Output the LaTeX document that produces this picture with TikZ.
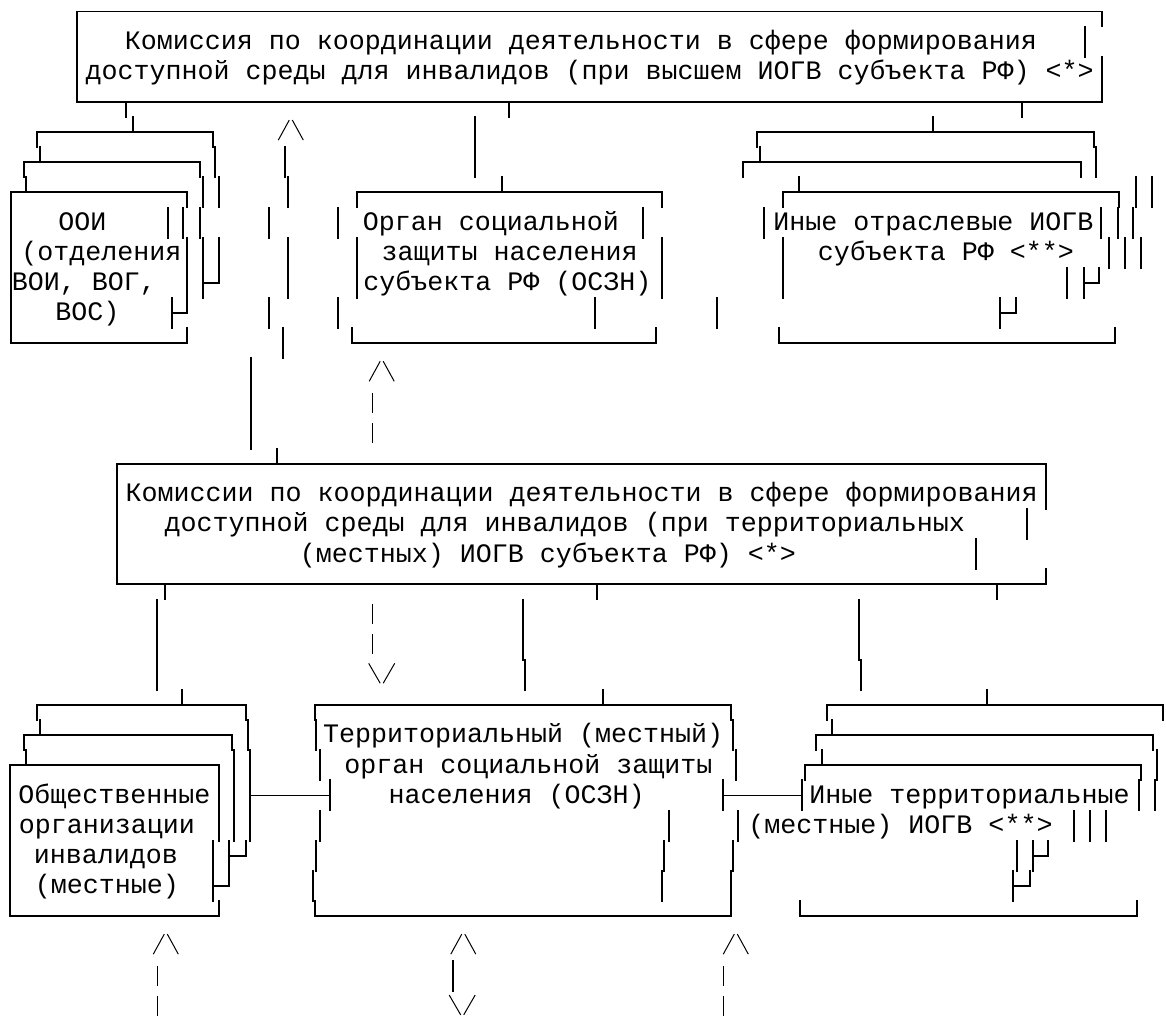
\documentclass[tikz,border=0pt]{standalone}
\usepackage{fontspec}
\newfontfamily\monofont{Liberation Mono}
\tikzset{
  bx/.style={line width=1.8pt, line cap=rect},
  thinglyph/.style={line width=1pt},
  tx/.style={font=\monofont\fontsize{26.67pt}{30pt}\selectfont, anchor=base, inner sep=0pt, yshift=-7.8pt, text=black},
}
\newcommand\vseg[3]{\draw[bx] (#1,#2) -- (#1,#3);}
\newcommand\hseg[3]{\draw[bx] (#2,#1) -- (#3,#1);}
\newcommand\uparr[2]{\draw[thinglyph] ({#1-12.5},{#2+0.265}) -- ({#1-1.5},{#2-0.4}) ({#1+1.5},{#2-0.4}) -- ({#1+12.5},{#2+0.265});}
\newcommand\dnarr[2]{\draw[thinglyph] ({#1-13},{#2-0.38}) -- ({#1-1.5},{#2+0.28}) ({#1+1.5},{#2+0.28}) -- ({#1+13},{#2-0.38});}
\newcommand\pipe[2]{\draw[thinglyph] (#1,{#2-0.35}) -- (#1,{#2+0.32});}
\begin{document}
\begin{tikzpicture}
\fill[white] (0pt,0pt) rectangle (1166pt,-1016pt);
\path[use as bounding box] (0pt,0pt) rectangle (1166pt,-1016pt);
\begin{scope}[x=1pt,y=-30.15pt,yshift=-11.5pt]
% ---------- top box
\hseg{0}{77}{1102}
\vseg{77}{0}{3}
\vseg{1102}{0}{0.5}
\vseg{1085}{0.5}{1.5}
\vseg{1102}{1.5}{3}
\hseg{3}{77}{1102}
\node[tx] (top1) at (581,1) {Комиссия по координации деятельности в сфере формирования};
\node[tx] (top2) at (589.7,2) {доступной среды для инвалидов (при высшем ИОГВ субъекта РФ) <*>};
\vseg{126}{3}{3.5}
\vseg{509.3}{3}{3.5}
\vseg{1021.7}{3}{3.5}
% ---------- OOI stack
\vseg{133.3}{3.5}{4}
\hseg{4}{36.7}{213.3}
\vseg{36.7}{4}{4.5}
\vseg{213.3}{4}{4.5}
\vseg{40}{4.5}{5}
\hseg{5}{24}{200}
\vseg{24}{5}{5.5}
\vseg{200}{5}{5.5}
\vseg{215.3}{4.5}{5.5}
\vseg{26}{5.5}{6}
\hseg{6}{10.7}{186.7}
\vseg{10.7}{6}{11}
\vseg{186.7}{6}{6.5}
\vseg{203.3}{5.5}{6.5}
\vseg{218.7}{5.5}{6.5}
\vseg{167.7}{6.5}{7.5}
\vseg{183.3}{6.5}{7.5}
\vseg{200}{6.5}{7.5}
\vseg{186.7}{7.5}{9.5}
\vseg{203.3}{7.5}{9.5}
\vseg{218.7}{7.5}{9}
\hseg{9}{203.3}{218.7}
\vseg{171.7}{9.5}{10.5}
\hseg{10}{171.7}{186.7}
\vseg{186.7}{9.5}{10}
\vseg{186.7}{10.5}{11}
\hseg{11}{10.7}{186.7}
\node[tx] (ooi1) at (82.5,7) {ООИ};
\node[tx] (ooi2) at (101.5,8) {(отделения};
\node[tx] (ooi3) at (84,9) {ВОИ, ВОГ,};
\node[tx] (ooi4) at (87.5,10) {ВОС)};
% ---------- middle column (upper)
\uparr{290.8}{4}
\vseg{475}{3.5}{5.5}
\vseg{285}{4.5}{5.5}
\vseg{288.3}{5.5}{6.5}
\vseg{269.3}{6.5}{7.5}
\vseg{288.3}{7.5}{9.5}
\vseg{269.3}{9.5}{10.5}
\vseg{282.7}{10.5}{11.5}
\vseg{250.7}{11.5}{14.5}
\vseg{276.7}{14.5}{15}
\vseg{338.3}{6.5}{7.5}
\vseg{338.3}{9.5}{10.5}
% ---------- OSZN (subject)
\vseg{501.7}{5.5}{6}
\hseg{6}{356.7}{661.7}
\vseg{356.7}{6}{6.5}
\vseg{661.7}{6}{6.5}
\vseg{642.7}{6.5}{7.5}
\vseg{356.7}{7.5}{9.5}
\vseg{661.7}{7.5}{9.5}
\vseg{595}{9.5}{10.5}
\vseg{717}{9.5}{10.5}
\vseg{351.7}{10.5}{11}
\hseg{11}{351.7}{656}
\vseg{656}{10.5}{11}
\node[tx] (os1) at (490.8,7) {Орган социальной};
\node[tx] (os2) at (509.7,8) {защиты населения};
\node[tx] (os3) at (507.5,9) {субъекта РФ (ОСЗН)};
\uparr{381.7}{12}
\pipe{372.7}{13}
\pipe{372.7}{14}
% ---------- other branch IOGV stack (upper right)
\vseg{933.3}{3.5}{4}
\hseg{4}{756.7}{1094}
\vseg{756.7}{4}{4.5}
\vseg{1094}{4}{4.5}
\vseg{760}{4.5}{5}
\hseg{5}{743.3}{1080.7}
\vseg{743.3}{5}{5.5}
\vseg{1080.7}{5}{5.5}
\vseg{1096}{4.5}{5.5}
\vseg{799.3}{5.5}{6}
\hseg{6}{783.3}{1119.3}
\vseg{783.3}{6}{6.5}
\vseg{1119.3}{6}{6.5}
\vseg{1136}{5.5}{6.5}
\vseg{1151.7}{5.5}{6.5}
\vseg{764.3}{6.5}{7.5}
\vseg{1101}{6.5}{7.5}
\vseg{1118.3}{6.5}{7.5}
\vseg{1133.3}{6.5}{7.5}
\vseg{783.3}{7.5}{9.5}
\vseg{1109.3}{7.5}{8.5}
\vseg{1125}{7.5}{8.5}
\vseg{1140.7}{7.5}{8.5}
\vseg{1066.7}{8.5}{9.5}
\vseg{1084}{8.5}{9.5}
\hseg{9}{1084}{1099.3}
\vseg{1099.3}{8.5}{9}
\vseg{1000}{9.5}{10.5}
\hseg{10}{1000}{1016}
\vseg{1016}{9.5}{10}
\vseg{779}{10.5}{11}
\hseg{11}{779}{1115}
\vseg{1115}{10.5}{11}
\node[tx] (ot1) at (933.3,7) {Иные отраслевые ИОГВ};
\node[tx] (ot2) at (945.8,8) {субъекта РФ <**>};
% ---------- commission box 2
\hseg{15}{116.7}{1045.7}
\vseg{116.7}{15}{19}
\vseg{1045.7}{15}{16.5}
\vseg{1026.7}{16.5}{17.5}
\vseg{976}{17.5}{18.5}
\vseg{1045.7}{18.5}{19}
\hseg{19}{116.7}{1045.7}
\node[tx] (km1) at (581.7,16) {Комиссии по координации деятельности в сфере формирования};
\node[tx] (km2) at (564.8,17) {доступной среды для инвалидов (при территориальных};
\node[tx] (km3) at (548,18) {(местных) ИОГВ субъекта РФ) <*>};
\vseg{165}{19}{19.5}
\vseg{597.3}{19}{19.5}
\vseg{997.3}{19}{19.5}
\vseg{157.3}{19.5}{22.5}
\pipe{372.7}{20}
\pipe{372.7}{21}
\dnarr{381.7}{22}
\vseg{522.7}{19.5}{21.5}
\vseg{525.3}{21.5}{22.5}
\vseg{859}{19.5}{21.5}
\vseg{861}{21.5}{22.5}
% ---------- bottom-left stack
\vseg{181.7}{22.5}{23}
\hseg{23}{36.7}{246}
\vseg{36.7}{23}{23.5}
\vseg{246}{23}{23.5}
\vseg{40}{23.5}{24}
\hseg{24}{24}{231.7}
\vseg{24}{24}{24.5}
\vseg{231.7}{24}{24.5}
\vseg{247.7}{23.5}{24.5}
\vseg{26}{24.5}{25}
\hseg{25}{10}{219}
\vseg{10}{25}{30}
\vseg{219}{25}{27.5}
\vseg{234.3}{24.5}{27.5}
\vseg{250}{24.5}{27.5}
\hseg{26}{250}{330}
\vseg{330}{25.5}{26.5}
\vseg{213.3}{27.5}{29.5}
\vseg{229.3}{27.5}{29}
\hseg{28}{229.3}{246}
\vseg{246}{27.5}{28}
\hseg{29}{213.3}{229.3}
\vseg{219}{29.5}{30}
\hseg{30}{10}{219}
\node[tx] (oi1) at (114.5,26) {Общественные};
\node[tx] (oi2) at (107,27) {организации};
\node[tx] (oi3) at (105.8,28) {инвалидов};
\node[tx] (oi4) at (107,29) {(местные)};
% ---------- territorial OSZN
\vseg{602.7}{22.5}{23}
\hseg{23}{315}{730.7}
\vseg{315}{23}{23.5}
\vseg{730.7}{23}{23.5}
\vseg{316}{23.5}{24.5}
\vseg{733.3}{23.5}{24.5}
\vseg{320}{24.5}{25.5}
\vseg{736}{24.5}{25.5}
\vseg{722.7}{25.5}{26.5}
\hseg{26}{722.7}{801.7}
\vseg{320}{26.5}{27.5}
\vseg{669.3}{26.5}{27.5}
\vseg{738.3}{26.5}{27.5}
\vseg{316}{27.5}{28.5}
\vseg{664.3}{27.5}{28.5}
\vseg{733.3}{27.5}{28.5}
\vseg{312.7}{28.5}{29.5}
\vseg{661.7}{28.5}{29.5}
\vseg{730.7}{28.5}{30}
\vseg{315}{29.5}{30}
\hseg{30}{315}{730.7}
\node[tx] (to1) at (523.2,24) {Территориальный (местный)};
\node[tx] (to2) at (528.3,25) {орган социальной защиты};
\node[tx] (to3) at (516.7,26) {населения (ОСЗН)};
% ---------- bottom-right stack
\vseg{987.3}{22.5}{23}
\hseg{23}{826.7}{1162.7}
\vseg{826.7}{23}{23.5}
\vseg{1162.7}{23}{23.5}
\vseg{831.7}{23.5}{24}
\hseg{24}{816}{1152.7}
\vseg{816}{24}{24.5}
\vseg{1152.7}{24}{24.5}
\vseg{821.7}{24.5}{25}
\hseg{25}{805}{1141}
\vseg{805}{25}{25.5}
\vseg{1141}{25}{25.5}
\vseg{1157.3}{24.5}{25.5}
\vseg{801.7}{25.5}{26.5}
\vseg{1139.3}{25.5}{26.5}
\vseg{1155}{25.5}{26.5}
\vseg{1074}{26.5}{27.5}
\vseg{1090}{26.5}{27.5}
\vseg{1106}{26.5}{27.5}
\vseg{1016.7}{27.5}{28.5}
\vseg{1032.7}{27.5}{28.5}
\hseg{28}{1032.7}{1048.3}
\vseg{1048.3}{27.5}{28}
\vseg{1013.3}{28.5}{29.5}
\hseg{29}{1013.3}{1030}
\vseg{1030}{28.5}{29}
\vseg{800}{29.5}{30}
\hseg{30}{800}{1136.7}
\vseg{1136.7}{29.5}{30}
\node[tx] (it1) at (969.5,26) {Иные территориальные};
\node[tx] (it2) at (900.5,27) {(местные) ИОГВ <**>};
% ---------- bottom arrows
\uparr{165.8}{31}
\uparr{463.3}{31}
\uparr{735.8}{31}
\pipe{157.3}{32}
\vseg{453.3}{31.5}{32.5}
\pipe{723.3}{32}
\pipe{157.3}{33}
\dnarr{462.2}{33}
\pipe{723.3}{33}
\end{scope}
\end{tikzpicture}
\end{document}
